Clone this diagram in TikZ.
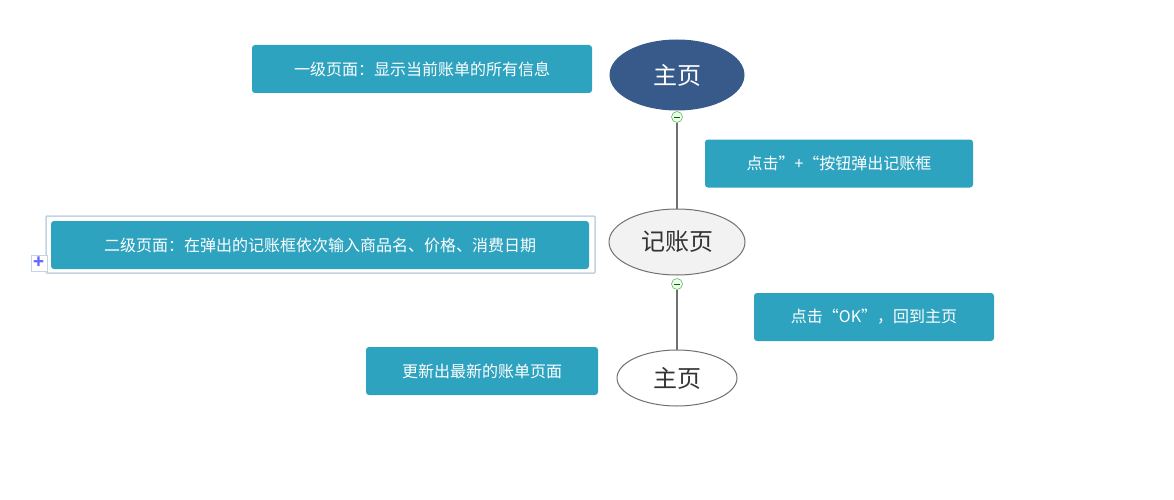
\documentclass[tikz,border=0pt]{standalone}
\usepackage{fontspec}
\setmainfont{Noto Sans CJK SC}
\usetikzlibrary{shapes.geometric,positioning}
\definecolor{tealbox}{HTML}{2EA3C0}
\definecolor{darkblue}{HTML}{375A8A}
\definecolor{ringgray}{HTML}{707070}
\definecolor{selgray}{HTML}{C5D3E0}
\tikzset{
  note/.style={fill=tealbox, rounded corners=3pt, text=white, minimum height=48pt,
    font=\fontsize{16}{18}\selectfont},
  topic/.style={ellipse, draw=ringgray, line width=1pt, font=\fontsize{24}{28}\selectfont, text=black!80},
  fold/.style={circle, draw=green!55!black!60, fill=green!8, line width=.6pt, minimum size=11pt, inner sep=0pt},
}
\begin{document}
\begin{tikzpicture}[x=1pt,y=-1pt]
\useasboundingbox (0,0) rectangle (1174,500);
\node[topic, fill=darkblue, draw=darkblue, text=white, minimum width=134pt, minimum height=70pt] (home) at (677,75) {主页};
\node[topic, fill=black!5, minimum width=136pt, minimum height=66pt] (book) at (677,242) {记账页};
\node[topic, fill=white, minimum width=120pt, minimum height=56pt] (back) at (677,378) {主页};
\node[fold] (f1) at (677,117) {};
\node[fold] (f2) at (677,284) {};
\draw[ringgray, line width=1.2pt] (f1) -- (book);
\draw[ringgray, line width=1.2pt] (f2) -- (back);
\foreach \f in {f1,f2} \draw[green!40!black, line width=.6pt] ([xshift=-3pt]\f.center) -- ([xshift=3pt]\f.center);
% notes
\node[note, minimum width=340pt] (n1) at (422,69) {一级页面：显示当前账单的所有信息};
\node[note, minimum width=268pt] (n2) at (839,163.5) {点击”+“按钮弹出记账框};
\draw[selgray, line width=1.5pt, rounded corners=1pt] (46,216) rectangle (595,273);
\node[note, minimum width=538pt] (n3) at (320,245) {二级页面：在弹出的记账框依次输入商品名、价格、消费日期};
\node[draw=selgray, fill=white, minimum size=16pt, inner sep=0pt, text=blue!60, font=\fontsize{18}{18}\selectfont\bfseries] (plus) at (39,263) {+};
\node[note, minimum width=240pt] (n4) at (874,317) {点击“OK”，回到主页};
\node[note, minimum width=232pt] (n5) at (482,371) {更新出最新的账单页面};
\end{tikzpicture}
\end{document}
